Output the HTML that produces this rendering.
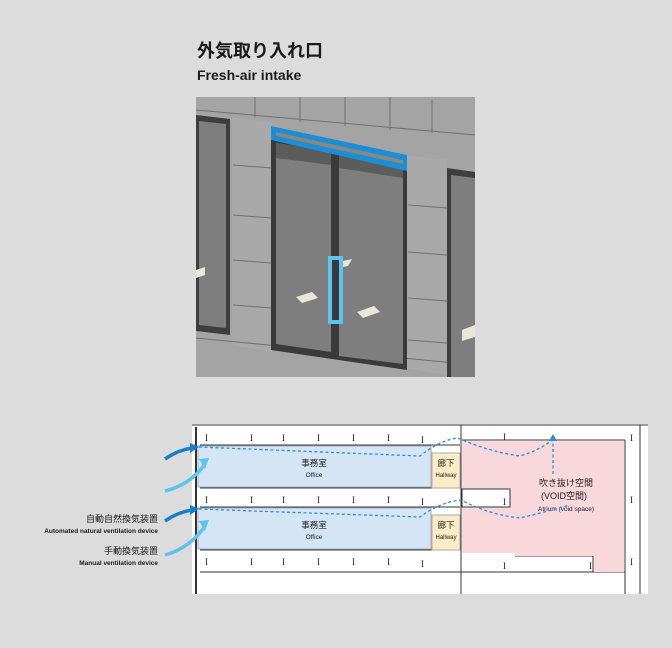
<!DOCTYPE html>
<html><head><meta charset="utf-8"><style>
body{margin:0;background:#dcdcdc;}
svg{display:block;font-family:"Liberation Sans","Noto Sans CJK JP",sans-serif;}
</style></head><body>
<svg width="672" height="648" viewBox="0 0 672 648" xmlns="http://www.w3.org/2000/svg">
<rect width="672" height="648" fill="#dcdcdc"/>
<text x="197" y="57" font-size="18" font-weight="bold" fill="#1a1a1a">外気取り入れ口</text>
<text x="197" y="80" font-size="14" font-weight="bold" fill="#1a1a1a">Fresh-air intake</text>

<!-- photo -->
<g>
<clipPath id="pc"><rect x="196" y="97" width="279" height="280"/></clipPath>
<g clip-path="url(#pc)">
<rect x="196" y="97" width="279" height="280" fill="#a4a4a4"/>
<polygon points="232,118 272,122 272,352 232,345" fill="#a9a9a9"/>
<polygon points="406,155 447,160 447,375 406,368" fill="#a9a9a9"/>
<g stroke="#707070" stroke-width="1" fill="none">
<line x1="196" y1="110" x2="475" y2="135"/>
<line x1="196" y1="338" x2="475" y2="365"/>
<line x1="255" y1="97" x2="255" y2="117"/><line x1="300" y1="97" x2="300" y2="122"/><line x1="345" y1="97" x2="345" y2="126"/><line x1="390" y1="97" x2="390" y2="130"/><line x1="432" y1="100" x2="432" y2="133"/>
<line x1="233" y1="165" x2="272" y2="168"/><line x1="233" y1="215" x2="272" y2="218"/><line x1="233" y1="260" x2="272" y2="263"/><line x1="233" y1="305" x2="272" y2="308"/>
<line x1="408" y1="205" x2="447" y2="208"/><line x1="408" y1="252" x2="447" y2="255"/><line x1="408" y1="298" x2="447" y2="301"/><line x1="408" y1="340" x2="447" y2="343"/>
</g>
<polygon points="196,115 230,119 230,335 196,331" fill="#3e3e3e"/>
<polygon points="199,121 226,124 226,328 199,325" fill="#7e7e7e"/>
<polygon points="447,168 475,172 475,377 447,377" fill="#3e3e3e"/>
<polygon points="451,175 475,178 475,377 451,377" fill="#7e7e7e"/>
<polygon points="271,135 407,160 407,370 271,350" fill="#3a3a3a"/>
<polygon points="276,143 331,151 331,352 276,344" fill="#7e7e7e"/>
<polygon points="339,153 403,163 403,364 339,356" fill="#7e7e7e"/>
<polygon points="276,143 331,151 331,165 276,158" fill="#5c5c5c"/>
<polygon points="339,153 403,163 403,178 339,168" fill="#5c5c5c"/>
<polygon points="296,297 312,292 318,298 302,303" fill="#e8e8d8"/>
<polygon points="357,312 374,306 380,312 363,318" fill="#e8e8d8"/>
<polygon points="343,261 352,259 348,266 343,267" fill="#e8e8d8"/>
<polygon points="196,270 205,267 205,275 196,278" fill="#e8e8d8"/>
<polygon points="462,330 475,325 475,337 462,341" fill="#e8e8d8"/>
<polygon points="271,126 407,155 407,171 271,140" fill="#1a8fd6"/>
<polygon points="276,132 403,160 403,164 276,136" fill="#8a8680"/>
<rect x="330" y="258" width="11" height="64" fill="none" stroke="#5cc4ef" stroke-width="4"/>
</g>
</g>

<!-- section -->
<rect x="192" y="424" width="456" height="170" fill="#fff"/>
<g stroke="#333" stroke-width="1" fill="none">
<line x1="192" y1="425" x2="648" y2="425"/>
<line x1="196" y1="427" x2="196" y2="594" stroke-width="2"/>
<line x1="200" y1="445" x2="460" y2="445"/>
<line x1="200" y1="488" x2="460" y2="488"/>
<line x1="200" y1="507" x2="460" y2="507"/>
<line x1="200" y1="550" x2="460" y2="550"/>
<line x1="200" y1="572" x2="460" y2="572"/>
<line x1="461" y1="425" x2="461" y2="594"/>
<line x1="625" y1="440" x2="625" y2="594"/>
<line x1="640" y1="425" x2="640" y2="594"/>
<line x1="462" y1="440" x2="625" y2="440"/>
<line x1="455" y1="572" x2="625" y2="572"/>
<line x1="515" y1="556" x2="593" y2="556"/>
<line x1="593" y1="556" x2="593" y2="572"/>
</g>
<rect x="198" y="446" width="233" height="41" fill="#d4e6f6" stroke="#aab"/>
<rect x="198" y="508" width="233" height="41" fill="#d4e6f6" stroke="#aab"/>
<rect x="432" y="453" width="28" height="35" fill="#fbecc6" stroke="#aaa"/>
<rect x="432" y="515" width="28" height="35" fill="#fbecc6" stroke="#aaa"/>
<path d="M462 441 H624 V572 H594 V556 H515 V553 H462 Z" fill="#f9d8dc"/>
<rect x="462" y="489" width="48" height="18" fill="#fff" stroke="#333"/>
<g font-size="9" fill="#222" font-family="Liberation Serif,serif">
<text x="205" y="441">I</text><text x="250" y="441">I</text><text x="282" y="441">I</text><text x="317" y="441">I</text><text x="352" y="441">I</text><text x="387" y="441">I</text><text x="421" y="443">I</text><text x="503" y="440">I</text><text x="630" y="441">I</text>
<text x="205" y="503">I</text><text x="250" y="503">I</text><text x="282" y="503">I</text><text x="317" y="503">I</text><text x="352" y="503">I</text><text x="387" y="503">I</text><text x="421" y="505">I</text><text x="503" y="505">I</text><text x="630" y="503">I</text>
<text x="205" y="565">I</text><text x="250" y="565">I</text><text x="282" y="565">I</text><text x="317" y="565">I</text><text x="352" y="565">I</text><text x="387" y="565">I</text><text x="421" y="567">I</text><text x="503" y="569">I</text><text x="589" y="569">I</text><text x="630" y="565">I</text>
</g>
<g fill="#222" text-anchor="middle">
<text x="314" y="466" font-size="8.5">事務室</text><text x="314" y="477" font-size="6.5">Office</text>
<text x="314" y="528" font-size="8.5">事務室</text><text x="314" y="539" font-size="6.5">Office</text>
<text x="446" y="466" font-size="8.5">廊下</text><text x="446" y="477" font-size="6">Hallway</text>
<text x="446" y="528" font-size="8.5">廊下</text><text x="446" y="539" font-size="6">Hallway</text>
<text x="566" y="486" font-size="9">吹き抜け空間</text>
<text x="564" y="499" font-size="9">(VOID空間)</text>
<text x="566" y="511" font-size="6.5">Atrium (void space)</text>
</g>
<g fill="none" stroke="#2a8fd4" stroke-width="1.3" stroke-dasharray="3,2.5">
<path d="M199 447 L420 456 Q440 440 458 438 Q490 452 520 456 Q540 450 552 440"/>
<path d="M553 474 L553 442"/>
<path d="M199 509 L420 517 Q440 502 461 500 Q490 515 520 518 Q545 512 570 505"/>
</g>
<polygon points="549,441 557,441 553,434" fill="#2a8fd4"/>
<g fill="none" stroke-width="3.5">
<path d="M165 459 Q178 450 192 448" stroke="#1a7fc8"/>
<path d="M165 491 Q190 485 205 464" stroke="#5cc4ef"/>
<path d="M165 521 Q178 512 192 510" stroke="#1a7fc8"/>
<path d="M165 555 Q190 548 205 526" stroke="#5cc4ef"/>
</g>
<polygon points="190,443 199,447 190,453" fill="#1a7fc8"/>
<polygon points="199,459 209,458 205,469" fill="#5cc4ef"/>
<polygon points="190,505 199,509 190,515" fill="#1a7fc8"/>
<polygon points="199,521 209,520 205,531" fill="#5cc4ef"/>
<g fill="#1a1a1a" text-anchor="end">
<text x="158" y="522" font-size="9">自動自然換気装置</text>
<text x="158" y="533" font-size="6.5" font-weight="bold">Automated natural ventilation device</text>
<text x="158" y="554" font-size="9">手動換気装置</text>
<text x="158" y="565" font-size="6.5" font-weight="bold">Manual ventilation device</text>
</g>
</svg>
</body></html>
